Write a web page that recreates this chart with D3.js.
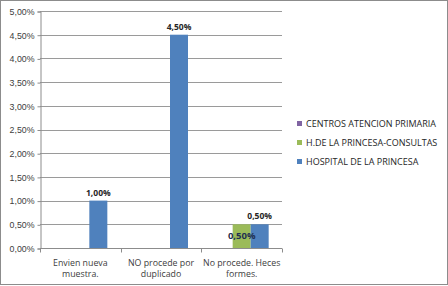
<!DOCTYPE html>
<html>
<head>
<meta charset="utf-8">
<script src="https://cdn.jsdelivr.net/npm/d3@7"></script>
<style>
body { margin: 0; background: #fff; }
svg { display: block; font-family: "Open Sans", "Liberation Sans", sans-serif; }
</style>
</head>
<body>
<svg id="chart" width="448" height="286"></svg>
<script>
const categories = [['Envien nueva', 'muestra.'], ['NO procede por', 'duplicado'], ['No procede. Heces', 'formes.']]
const series = ['CENTROS ATENCION PRIMARIA', 'H.DE LA PRINCESA-CONSULTAS', 'HOSPITAL DE LA PRINCESA']
const colors = ['#8064a2', '#9bbb59', '#4f81bd']
// values in %, null = no bar
const centrosValues = [null, null, null]
const consultasValues = [null, null, 0.5]
const hospitalValues = [1.0, 4.5, 0.5]
const yTicks = [0, 0.5, 1, 1.5, 2, 2.5, 3, 3.5, 4, 4.5, 5]

const values = [centrosValues, consultasValues, hospitalValues]
const fmt = v => v.toFixed(2).replace('.', ',') + '%'

const svg = d3.select('#chart')
const plotLeft = 40, plotRight = 282, plotTop = 11, plotBottom = 248

// chart border
svg.append('rect')
	.attr('x', 0.5).attr('y', 0.5).attr('width', 447).attr('height', 284)
	.attr('fill', 'none').attr('stroke', '#8c8c8c').attr('stroke-width', 1)

const x = d3.scaleBand().domain(d3.range(categories.length)).range([plotLeft, plotRight])
const xs = d3.scaleBand().domain(d3.range(series.length)).range([0, x.bandwidth()])
	.paddingInner(0).paddingOuter((x.bandwidth() - 54) / 2 / 18)
const y = d3.scaleLinear().domain([0, 5]).range([plotBottom, plotTop])

// gridlines
svg.append('g').selectAll('line').data(yTicks.slice(1)).enter().append('line')
	.attr('x1', plotLeft).attr('x2', plotRight)
	.attr('y1', d => Math.round(y(d)) + 0.5).attr('y2', d => Math.round(y(d)) + 0.5)
	.attr('stroke', '#9a9a9a')

// y axis
const yAxis = svg.append('g').attr('transform', 'translate(' + (plotLeft + 0.5) + ',0.5)')
	.call(d3.axisLeft(y).tickValues(yTicks).tickFormat(fmt).tickSize(3).tickPadding(3))
yAxis.select('.domain').attr('stroke', '#8c8c8c')
yAxis.selectAll('.tick line').attr('stroke', '#8c8c8c')
yAxis.selectAll('text').attr('fill', '#404040').style('font-size', '8.8px').style('font-family', null)

// x axis
const xAxis = svg.append('g').attr('transform', 'translate(0,' + (plotBottom + 0.5) + ')')
xAxis.append('line').attr('x1', plotLeft).attr('x2', plotRight).attr('stroke', '#8c8c8c')
xAxis.selectAll('.tk').data(d3.range(categories.length + 1)).enter().append('line')
	.attr('x1', d => Math.round(plotLeft + d * x.bandwidth()) + 0.5)
	.attr('x2', d => Math.round(plotLeft + d * x.bandwidth()) + 0.5)
	.attr('y1', 0).attr('y2', 4).attr('stroke', '#8c8c8c')
xAxis.selectAll('text').data(categories).enter().append('text')
	.attr('text-anchor', 'middle').attr('fill', '#404040')
	.style('font-size', '8.8px')
	.attr('transform', (d, i) => 'translate(' + (x(i) + x.bandwidth() / 2) + ',0)')
	.selectAll('tspan').data(d => d).enter().append('tspan')
	.attr('x', 0).attr('y', (d, i) => 17 + i * 11).text(d => d)

// bars
values.forEach((vals, s) => {
	const g = svg.append('g')
	vals.forEach((v, c) => {
		if (v === null) return
		g.append('rect')
			.attr('x', x(c) + xs(s)).attr('width', xs.bandwidth())
			.attr('y', y(v)).attr('height', y(0) - y(v))
			.attr('fill', colors[s])
	})
})

// data labels
values.forEach((vals, s) => {
	vals.forEach((v, c) => {
		if (v === null) return
		const inside = s === 1
		svg.append('text')
			.attr('x', x(c) + xs(s) + xs.bandwidth() / 2)
			.attr('y', inside ? y(v) + 15 : y(v) - 5)
			.attr('text-anchor', 'middle')
			.attr('fill', inside ? '#1f3050' : '#262626')
			.style('font-size', inside ? '9.5px' : '8.5px')
			.style('font-weight', 'bold')
			.text(fmt(v))
	})
})

// legend
const legend = svg.append('g').attr('transform', 'translate(297,0)')
series.forEach((name, i) => {
	const ly = 124 + i * 19
	legend.append('rect').attr('x', 0).attr('y', ly - 3).attr('width', 5).attr('height', 5).attr('fill', colors[i])
	legend.append('text').attr('x', 9).attr('y', ly + 3).attr('fill', '#262626')
		.style('font-size', '9px').text(name)
})
</script>
</body>
</html>
